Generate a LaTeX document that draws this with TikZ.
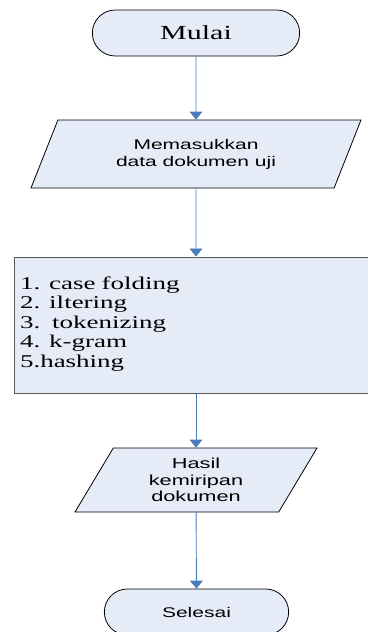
\documentclass[tikz,border=0pt]{standalone}
\usepackage{fontspec}
\usetikzlibrary{shapes.geometric,shapes.misc,arrows.meta}
\newfontfamily\flowserif{Liberation Serif}[FakeStretch=1.5]
\newfontfamily\flowsans{Liberation Sans}[FakeStretch=1.5]
\definecolor{boxfill}{HTML}{E6ECF7}
\definecolor{lineblue}{HTML}{4A7EBB}
\begin{document}
\begin{tikzpicture}[x=1pt,y=-1pt]
    \tikzstyle{term}=[rounded rectangle,draw,fill=boxfill,line width=.8pt,minimum height=46pt]
    \tikzstyle{io}=[trapezium,trapezium left angle=50,trapezium right angle=130,trapezium stretches body,
                    draw,fill=boxfill,line width=.8pt,align=center,inner sep=1pt,font=\fontsize{14}{17}\flowsans]
    \tikzstyle{proc}=[rectangle,draw=black!65,fill=boxfill,line width=1pt,align=left,
                      inner xsep=6pt,inner ysep=0pt,minimum height=136pt,font=\fontsize{18}{19.5}\flowserif]
    \tikzstyle{e}=[draw=lineblue,line width=.9pt,-{Triangle[width=13pt,length=8pt]}]
    \useasboundingbox (0,0) rectangle (367,632);
    \node[term,minimum width=214pt,font=\fontsize{20}{24}\flowserif] at (196,33) (mulai) {Mulai};
    \node[io,minimum width=330pt,minimum height=68pt] at (196,154) (input) {Memasukkan\\data dokumen uji};
    \node[proc,text width=352pt] at (196,325) (prep)
        {1. case folding\\2. iltering\\3.\ \ tokenizing\\4. k-gram\\5.hashing\\[-13pt] \mbox{}};
    \node[io,minimum width=242pt,minimum height=64pt,font=\fontsize{14.5}{16.5}\flowsans] at (196,480) (hasil)
        {Hasil\\kemiripan\\dokumen};
    \node[term,minimum width=191pt,font=\fontsize{14}{17}\flowsans] at (196.5,612) (selesai) {Selesai};
    \draw[e] (mulai) -- (input); \draw[e] (input) -- (prep); % alur utama
    \draw[e] (prep) -- (hasil); \draw[e] (hasil) -- (selesai);
\end{tikzpicture}
\end{document}
